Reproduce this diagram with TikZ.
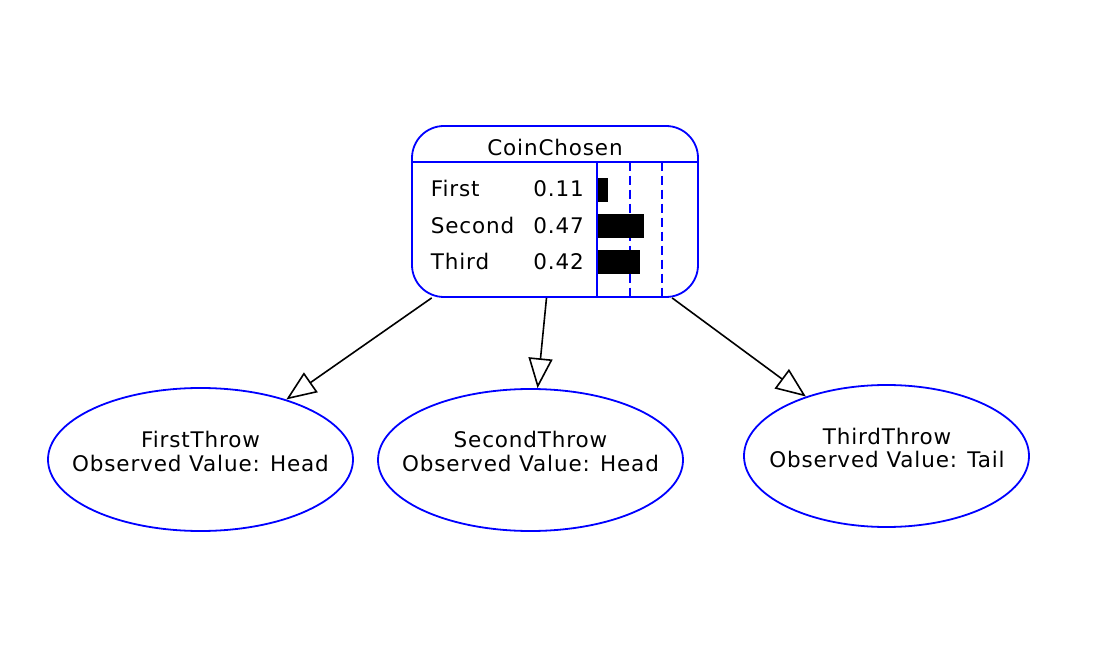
\documentclass[tikz,border=0pt]{standalone}
\usepackage{fontspec}
\setmainfont{DejaVu Sans}[LetterSpace=4]
\usetikzlibrary{arrows.meta,shapes.geometric}
\definecolor{nodeblue}{RGB}{0,0,255}
\begin{document}
\begin{tikzpicture}[x=1pt,y=-1pt,
  blueline/.style={draw=nodeblue,line width=1.8pt},
  coinbox/.style={blueline,rectangle,rounded corners=32pt,minimum width=286pt,minimum height=171pt,inner sep=0pt},
  obs/.style={blueline,ellipse,inner sep=0pt},
  lbl/.style={inner sep=0pt,font=\fontsize{21.5}{24}\selectfont},
  bar/.style={fill=black,draw=none},
  gridline/.style={draw=nodeblue,line width=1.8pt,dash pattern=on 9pt off 5pt},
  edge/.style={draw=black,line width=1.6pt,-{Triangle[open,length=30pt,width=24pt]}}
]
\useasboundingbox[fill=white] (0,0) rectangle (1106,660);

% CoinChosen node
\node[coinbox] (coin) at (555,211.5) {};
\draw[blueline] (412,161.7) -- (698,161.7);
\draw[blueline] (596.7,161.7) -- (596.7,296.5);
\draw[gridline] (630.3,161.7) -- (630.3,296.5);
\draw[gridline] (662.3,161.7) -- (662.3,296.5);
\fill[bar] (598,178.3) rectangle (608,201.7);
\fill[bar] (598,214) rectangle (644,237.7);
\fill[bar] (598,250) rectangle (640,273.7);
\node[lbl,anchor=base] (coinname) at (555,155.7) {CoinChosen};
\node[lbl,anchor=base west] (s1) at (430.7,197) {First};
\node[lbl,anchor=base west] (s2) at (430.7,234) {Second};
\node[lbl,anchor=base west] (s3) at (430.7,270) {Third};
\node[lbl,anchor=base east] (v1) at (584,197) {0.11};
\node[lbl,anchor=base east] (v2) at (584,234) {0.47};
\node[lbl,anchor=base east] (v3) at (584,270) {0.42};

% Observed nodes
\node[obs,minimum width=305pt,minimum height=143pt] (first) at (200.5,459.5) {};
\node[obs,minimum width=305pt,minimum height=142pt] (second) at (530.5,460) {};
\node[obs,minimum width=285pt,minimum height=142pt] (third) at (886.5,456) {};

\node[lbl,anchor=base] (f1) at (200.5,447.7) {FirstThrow};
\node[lbl,anchor=base] (f2) at (200.5,471.7) {Observed Value: Head};
\node[lbl,anchor=base] (g1) at (530.5,447.7) {SecondThrow};
\node[lbl,anchor=base] (g2) at (530.5,471.7) {Observed Value: Head};
\node[lbl,anchor=base] (h1) at (887,444) {ThirdThrow};
\node[lbl,anchor=base] (h2) at (887,467.5) {Observed Value: Tail};

% Edges
\draw[edge] (coin) -- (first);
\draw[edge] (coin) -- (second);
\draw[edge] (coin) -- (third);
\end{tikzpicture}
\end{document}
